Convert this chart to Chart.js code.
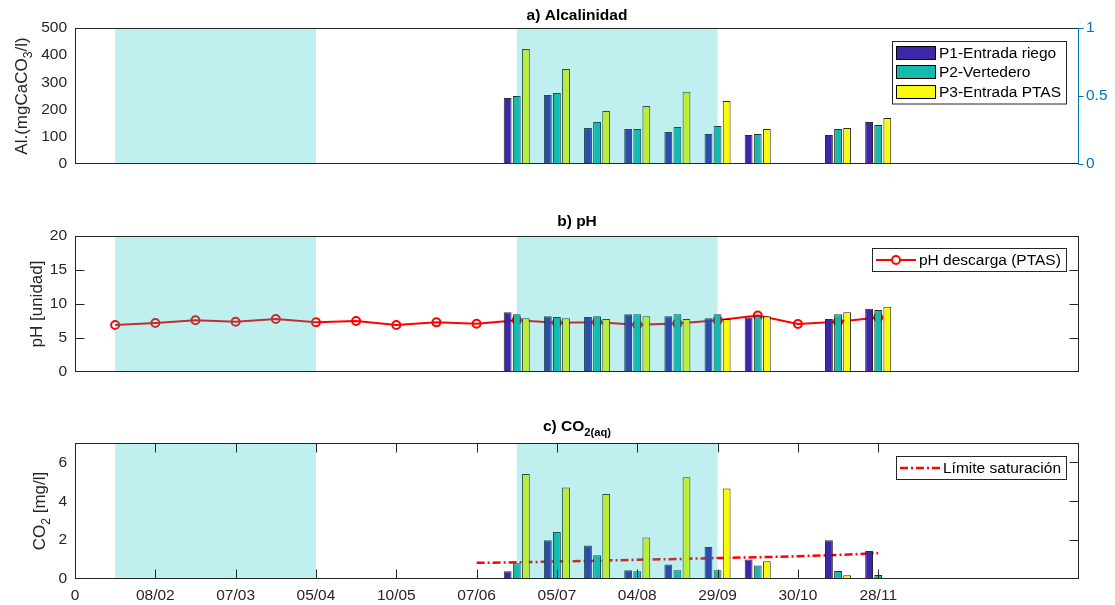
<!DOCTYPE html>
<html>
<head>
<meta charset="utf-8">
<script src="https://cdn.jsdelivr.net/npm/chart.js@4.4.1/dist/chart.umd.min.js"></script>
<style>
  body { margin: 0; background: #fff; }
  .panel { position: absolute; left: 0; width: 1115px; }
</style>
</head>
<body>
<div class="panel" style="top:0;height:190px"><canvas id="chartA"></canvas></div>
<div class="panel" style="top:190px;height:200px"><canvas id="chartB"></canvas></div>
<div class="panel" style="top:390px;height:215px"><canvas id="chartC"></canvas></div>
<script>
// etiquetas del eje x (una por unidad)
const etiquetasX = ["0", "08/02", "07/03", "05/04", "10/05", "07/06", "05/07", "04/08", "29/09", "30/10", "28/11"];
// posición de cada muestreo sobre el eje x
const muestrasX = [5.5, 6, 6.5, 7, 7.5, 8, 8.5, 9.5, 10];

// a) Alcalinidad (mgCaCO3/l)
const alcP1 = [243, 254, 132, 129, 118, 110, 107, 107, 154];
const alcP2 = [250, 261, 154, 129, 136, 140, 110, 129, 143];
const alcP3 = [423, 349, 195, 213, 266, 232, 129, 132, 169];

// b) pH
const phP1 = [8.8, 8.2, 8.1, 8.5, 8.2, 7.9, 8.0, 7.8, 9.3];
const phP2 = [8.5, 8.1, 8.2, 8.5, 8.5, 8.5, 8.2, 8.5, 9.1];
const phP3 = [7.9, 7.9, 7.8, 8.2, 7.8, 7.8, 8.2, 8.8, 9.6];
const phDescargaX = [0.5, 1, 1.5, 2, 2.5, 3, 3.5, 4, 4.5, 5, 5.5, 6, 6.5, 7, 7.5, 8, 8.5, 9, 9.5, 10];
const phDescarga = [6.9, 7.2, 7.6, 7.4, 7.8, 7.3, 7.5, 6.9, 7.3, 7.1, 7.6, 7.25, 7.3, 6.95, 7.15, 7.6, 8.3, 7.05, 7.4, 8.0];

// c) CO2 (mg/l)
const co2P1 = [0.40, 2.00, 1.73, 0.45, 0.75, 1.65, 1.01, 2.00, 1.44];
const co2P2 = [0.81, 2.42, 1.22, 0.40, 0.45, 0.45, 0.70, 0.41, 0.21];
const co2P3 = [5.40, 4.71, 4.37, 2.14, 5.24, 4.66, 0.91, 0.19, 0];
const limiteX = [5, 5.5, 6, 6.5, 7, 7.5, 8, 8.5, 9, 9.5, 10];
const limiteSat = [0.83, 0.86, 0.90, 0.94, 0.99, 1.03, 1.08, 1.12, 1.17, 1.24, 1.33];

// periodos sombreados
const periodos = [[0.5, 3.0], [5.5, 8.0]];

const FUENTE = '"Liberation Sans", Arial, Helvetica, sans-serif';
const GRIS = '#262626';
const colP1 = '#3E26A8';
const colP2 = '#16BAAD';
const colP3 = '#F9FB0E';

function dibujarRuns(ctx, runs, x, y, size, bold, align) {
    const f = sub => (bold ? 'bold ' : '') + (sub ? size * 0.72 : size) + 'px ' + FUENTE;
    let total = 0;
    for (const [t, sub] of runs) { ctx.font = f(sub); total += ctx.measureText(t).width; }
    let cx = align === 'center' ? x - total / 2 : x;
    ctx.textAlign = 'left';
    ctx.textBaseline = 'alphabetic';
    for (const [t, sub] of runs) {
        ctx.font = f(sub);
        ctx.fillText(t, cx, y + (sub ? size * 0.3 : 0));
        cx += ctx.measureText(t).width;
    }
}

function linea(ctx, x0, y0, x1, y1) {
    ctx.beginPath();
    ctx.moveTo(x0, y0);
    ctx.lineTo(x1, y1);
    ctx.stroke();
}

// sombreado, marco, marcas, leyenda y títulos
const marcoPlugin = {
    id: 'marco',
    afterDatasetsDraw(chart, args, o) {
        const { ctx, chartArea: a } = chart;
        const x = chart.scales.x, y = chart.scales.y;
        ctx.save();

        ctx.fillStyle = 'rgba(0,191,191,0.25)';
        for (const [x0, x1] of periodos) {
            const p0 = x.getPixelForValue(x0), p1 = x.getPixelForValue(x1);
            ctx.fillRect(p0, a.top, p1 - p0, a.bottom - a.top);
        }

        const L = Math.round(a.left) + 0.5, R = Math.round(a.right) - 0.5;
        const T = Math.round(a.top) + 0.5, B = Math.round(a.bottom) - 0.5;
        ctx.lineWidth = 1;
        ctx.strokeStyle = GRIS;
        ctx.strokeRect(L, T, R - L, B - T);

        const tl = 9;
        if (o.ticksY) {
            for (const t of y.ticks) {
                if (t.value <= y.min || t.value >= y.max) continue;
                const py = Math.round(y.getPixelForValue(t.value)) + 0.5;
                if (o.ticksY.left) linea(ctx, L, py, L + tl, py);
                if (o.ticksY.right) linea(ctx, R - tl, py, R, py);
            }
        }
        if (o.ticksX) {
            for (const t of x.ticks) {
                if (t.value <= 0 || t.value > 10) continue;
                const px = Math.round(x.getPixelForValue(t.value)) + 0.5;
                linea(ctx, px, T, px, T + tl);
                linea(ctx, px, B - tl, px, B);
            }
        }
        if (o.ejeDerecho) {
            const y2 = chart.scales.y2;
            ctx.strokeStyle = o.ejeDerecho;
            linea(ctx, R, T, R, B);
            for (const t of y2.ticks) {
                const py = Math.round(y2.getPixelForValue(t.value)) + 0.5;
                linea(ctx, R, py, R + 5, py);
            }
        }

        // leyenda
        const ley = o.leyenda;
        ctx.font = '15.5px ' + FUENTE;
        const anchoTxt = Math.max(...ley.filas.map(f => ctx.measureText(f.texto).width));
        const w = Math.round(4 + 40 + 3 + anchoTxt + 5);
        const h = ley.filas.length * ley.alto + 4;
        const bx = Math.round(a.right - 13 - w), by = Math.round(a.top + ley.top);
        ctx.fillStyle = '#fff';
        ctx.fillRect(bx, by, w, h);
        ctx.strokeStyle = GRIS;
        ctx.lineWidth = 1;
        ctx.strokeRect(bx + 0.5, by + 0.5, w, h);
        ley.filas.forEach((f, i) => {
            const cy = Math.round(by + 2 + ley.alto * (i + 0.5));
            if (f.tipo === 'patch') {
                ctx.fillStyle = f.color;
                ctx.fillRect(bx + 4, cy - 7, 40, 14);
                ctx.strokeStyle = '#000';
                ctx.lineWidth = 1;
                ctx.strokeRect(bx + 4.5, cy - 6.5, 39, 13);
            } else {
                ctx.strokeStyle = f.color;
                ctx.lineWidth = f.ancho;
                ctx.setLineDash(f.dash || []);
                linea(ctx, bx + 4, cy, bx + 44, cy);
                ctx.setLineDash([]);
                if (f.marcador) {
                    ctx.beginPath();
                    ctx.arc(bx + 24, cy, 4, 0, Math.PI * 2);
                    ctx.fillStyle = '#fff';
                    ctx.fill();
                    ctx.stroke();
                }
            }
            ctx.fillStyle = '#000';
            ctx.font = '15.5px ' + FUENTE;
            ctx.textAlign = 'left';
            ctx.textBaseline = 'middle';
            ctx.fillText(f.texto, bx + 47, cy + 1);
        });

        // título
        ctx.fillStyle = '#000';
        dibujarRuns(ctx, o.titulo, (a.left + a.right) / 2, a.top - o.tituloDy, 15.5, true, 'center');

        // etiqueta eje y
        ctx.save();
        ctx.translate(o.ylabelX + 6, (a.top + a.bottom) / 2);
        ctx.rotate(-Math.PI / 2);
        ctx.fillStyle = GRIS;
        dibujarRuns(ctx, o.ylabel, 0, 0, 17, false, 'center');
        ctx.restore();

        ctx.restore();
    }
};

function serieBarras(label, valores, color) {
    return {
        type: 'bar',
        label: label,
        data: muestrasX.map((x, i) => ({ x: x, y: valores[i] })),
        backgroundColor: color,
        borderColor: 'rgba(20,20,20,0.9)',
        borderWidth: 1,
        borderSkipped: false,
        categoryPercentage: 0.68,
        barPercentage: 0.86,
        order: 0,
        yAxisID: 'y'
    };
}

function ejeY(max, paso) {
    return {
        min: 0, max: max,
        ticks: { stepSize: paso, color: GRIS, padding: 8, font: { family: FUENTE, size: 15.5 } },
        grid: { display: false, drawTicks: false },
        border: { display: false },
        afterBuildTicks: s => { s.ticks = s.ticks.filter(t => Math.abs(t.value / paso - Math.round(t.value / paso)) < 1e-6); },
        afterFit: s => { s.width = 75; }
    };
}

const ejeXOculto = { type: 'linear', min: 0, max: 12.5, offset: false, display: false };

const base = {
    responsive: true,
    maintainAspectRatio: false,
    animation: false,
    events: []
};

// a) Alcalinidad
new Chart(document.getElementById('chartA'), {
    type: 'bar',
    data: {
        datasets: [
            serieBarras('P1-Entrada riego', alcP1, colP1),
            serieBarras('P2-Vertedero', alcP2, colP2),
            serieBarras('P3-Entrada PTAS', alcP3, colP3)
        ]
    },
    options: {
        ...base,
        layout: { padding: { top: 28, bottom: 26, left: 0, right: 0 } },
        scales: {
            x: ejeXOculto,
            y: ejeY(500, 100),
            y2: {
                position: 'right', min: 0, max: 1,
                ticks: {
                    stepSize: 0.5, color: '#0072BD', padding: 7, font: { family: FUENTE, size: 15.5 },
                    callback: v => String(v)
                },
                grid: { display: false, drawTicks: false },
                border: { display: false },
                afterFit: s => { s.width = 36; }
            }
        },
        plugins: {
            legend: { display: false },
            tooltip: { enabled: false },
            marco: {
                titulo: [['a) Alcalinidad', 0]], tituloDy: 8,
                ylabel: [['Al.(mgCaCO', 0], ['3', 1], ['/l)', 0]], ylabelX: 21,
                ejeDerecho: '#0072BD',
                leyenda: {
                    top: 13, alto: 19.5,
                    filas: [
                        { tipo: 'patch', color: colP1, texto: 'P1-Entrada riego' },
                        { tipo: 'patch', color: colP2, texto: 'P2-Vertedero' },
                        { tipo: 'patch', color: colP3, texto: 'P3-Entrada PTAS' }
                    ]
                }
            }
        }
    },
    plugins: [marcoPlugin]
});

// b) pH
new Chart(document.getElementById('chartB'), {
    type: 'bar',
    data: {
        datasets: [
            serieBarras('P1-Entrada riego', phP1, colP1),
            serieBarras('P2-Vertedero', phP2, colP2),
            serieBarras('P3-Entrada PTAS', phP3, colP3),
            {
                type: 'line',
                label: 'pH descarga (PTAS)',
                data: phDescargaX.map((x, i) => ({ x: x, y: phDescarga[i] })),
                borderColor: '#FF0000',
                borderWidth: 2,
                pointRadius: 4,
                pointBorderWidth: 2,
                pointBorderColor: '#FF0000',
                pointBackgroundColor: 'rgba(0,0,0,0)',
                tension: 0,
                order: 1,
                yAxisID: 'y'
            }
        ]
    },
    options: {
        ...base,
        layout: { padding: { top: 46, bottom: 18, left: 0, right: 36 } },
        scales: { x: ejeXOculto, y: ejeY(20, 5) },
        plugins: {
            legend: { display: false },
            tooltip: { enabled: false },
            marco: {
                titulo: [['b) pH', 0]], tituloDy: 10,
                ylabel: [['pH [unidad]', 0]], ylabelX: 36,
                ticksY: { left: true, right: true },
                leyenda: {
                    top: 12, alto: 19,
                    filas: [{ tipo: 'line', color: '#FF0000', ancho: 2, marcador: true, texto: 'pH descarga (PTAS)' }]
                }
            }
        }
    },
    plugins: [marcoPlugin]
});

// c) CO2(aq)
new Chart(document.getElementById('chartC'), {
    type: 'bar',
    data: {
        datasets: [
            serieBarras('P1-Entrada riego', co2P1, colP1),
            serieBarras('P2-Vertedero', co2P2, colP2),
            serieBarras('P3-Entrada PTAS', co2P3, colP3),
            {
                type: 'line',
                label: 'Límite saturación',
                data: limiteX.map((x, i) => ({ x: x, y: limiteSat[i] })),
                borderColor: '#FF0000',
                borderWidth: 2.5,
                borderDash: [8, 3, 2, 3],
                pointRadius: 0,
                tension: 0,
                order: 1,
                yAxisID: 'y'
            }
        ]
    },
    options: {
        ...base,
        layout: { padding: { top: 53, bottom: 0, left: 0, right: 36 } },
        scales: {
            x: {
                type: 'linear', min: 0, max: 12.5, offset: false,
                ticks: {
                    stepSize: 1, autoSkip: false, maxRotation: 0, color: GRIS, padding: 7,
                    font: { family: FUENTE, size: 15.5 },
                    callback: v => etiquetasX[v] ?? ''
                },
                afterBuildTicks: s => { s.ticks = s.ticks.filter(t => Number.isInteger(t.value) && t.value <= 10); },
                grid: { display: false, drawTicks: false, offset: false },
                border: { display: false },
                afterFit: s => { s.height = 26; }
            },
            y: ejeY(7, 2)
        },
        plugins: {
            legend: { display: false },
            tooltip: { enabled: false },
            marco: {
                titulo: [['c) CO', 0], ['2(aq)', 1]], tituloDy: 12,
                ylabel: [['CO', 0], ['2', 1], [' [mg/l]', 0]], ylabelX: 39,
                ticksY: { left: false, right: true },
                ticksX: true,
                leyenda: {
                    top: 13, alto: 19,
                    filas: [{ tipo: 'line', color: '#FF0000', ancho: 2.5, dash: [8, 3, 2, 3], texto: 'Límite saturación' }]
                }
            }
        }
    },
    plugins: [marcoPlugin]
});
</script>
</body>
</html>
